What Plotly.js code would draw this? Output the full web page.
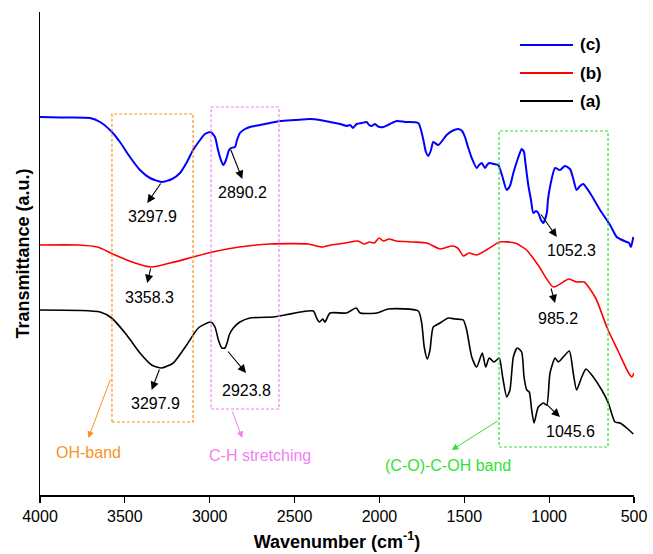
<!DOCTYPE html>
<html>
<head>
<meta charset="utf-8">
<script src="https://cdn.plot.ly/plotly-3.0.1.min.js"></script>
<style>html,body{margin:0;padding:0;background:#fff;}#chart{width:653px;height:554px;}</style>
</head>
<body>
<div id="chart"></div>
<script>
// Wavenumber (cm-1) and transmittance (a.u.)
const wnC = [4000,3882,3705,3646,3576,3529,3470,3411,3352,3283,3222,3175,3134,3098,3057,3028,2994,2969,2951,2934,2920,2904,2886,2875,2851,2839,2822,2792,2763,2704,2645,2586,2497,2409,2350,2291,2232,2193,2173,2156,2134,2103,2075,2061,2045,2026,2008,1977,1938,1898,1849,1771,1755,1741,1726,1712,1696,1683,1653,1604,1572,1535,1513,1496,1478,1456,1427,1413,1397,1378,1366,1353,1325,1300,1278,1250,1231,1211,1183,1162,1148,1142,1123,1107,1093,1077,1064,1048,1034,1014,1007,995,965,936,907,877,859,838,818,799,759,700,641,602,582,543,529,518,504];
const tC  = [378,377.5,377,373,363,353,338,325,317,313,316,322,333,345,355,361,363,358,345,335,330,335,345,347,348,355,362,366,368,370,372,374,375,376,375,373,371,369,370,367,371,372,373,370,369,371,368.5,368,371,374,373,372,365,355,343,339,345,353,350,360,364,366,364,358,348,337,327,330,332,327,330,332,331,330,320,305,309,322,337,346,343,335,310,295,282,284,282,275,272,282,295,308,327,325,329,326,317,305,309,311,302,285,270,258,256,253,252,248,258];

const wnB = [4000,3774,3661,3571,3458,3345,3232,3097,2984,2826,2645,2420,2341,2284,2200,2126,2090,2058,2030,2002,1975,1945,1900,1800,1721,1641,1573,1539,1505,1472,1426,1370,1291,1201,1133,1065,975,885,839,794,726,658,591,535,512,500];
const tB  = [250,250,248,241,233,228,232,238,243,248,251,251,248,250,252,254,251,253,252,257,254,256,254,253,252,246,249,247,239,242,240,245,253,252,245,230,208,216,213,213,197,167,143,123,118,122];

const wnA = [4000,3646,3578,3489,3411,3342,3283,3215,3136,3067,2994,2969,2949,2929,2910,2896,2885,2861,2822,2763,2625,2586,2390,2370,2354,2334,2321,2291,2194,2137,2114,2016,1997,1948,1771,1751,1736,1718,1702,1683,1643,1594,1555,1506,1486,1456,1427,1394,1374,1353,1325,1294,1274,1250,1231,1211,1188,1162,1148,1132,1117,1103,1089,1064,1034,1014,995,965,946,917,881,858,838,808,783,740,690,651,612,582,543,504];
const tA  = [185,183,177,160,142,130,127,132,150,167,173,168,155,147,147,153,160,167,173,177,178,179,184,177,173,176,173,182,182,187,182,182,183,186,184,172,148,136,145,168,172,177,176,175,165,138,128,142,128,137,133,137,118,98,105,138,147,143,118,105,103,85,72,88,92,90,122,137,133,138,144,122,105,118,126,118,105,92,73,72,67,61];

const seriesNames = ['(c)','(b)','(a)'];
const seriesColors = ['#0000FF','#FF0000','#000000'];
const xTicks = [4000,3500,3000,2500,2000,1500,1000,500];

// peak labels: [text, x, y]
const peakLabels = [
  ['3297.9',3336,279],['2890.2',2804,303],['3358.3',3352,198],
  ['3297.9',3322,92],['2923.8',2782,105],['1052.3',867,245],
  ['985.2',946,177],['1045.6',873,64]
];
// arrows: [tailX, tailY, headX, headY]
const peakArrows = [
  [3283,313,3368,292],[2880,347,2808,316],[3346,228,3368,212],
  [3293,127,3342,105],[2900,145,2786,122],[1054,282,955,258],
  [991,208,965,192],[1024,92,936,78]
];
// band boxes: [x0, x1, y0, y1, color, label, labelX, labelY, tailX, tailY, headX, headY]
const bands = [
  [3576,3098,73,381,'#F7931E','OH-band',3715,43,3582,117,3715,57],
  [2992,2592,86,388,'#F27FF2','C-H stretching',2704,40,2870,85,2808,57],
  [1295,653,48,364,'#33E033','(C-O)-C-OH band',1596,30,1294,75,1574,45]
];

const FONT = 'Liberation Sans, Arial, sans-serif';
const traces = [
  {x: wnC, y: tC, name: seriesNames[0], mode:'lines', line:{color:seriesColors[0], width:2, shape:'spline', smoothing:0.6}},
  {x: wnB, y: tB, name: seriesNames[1], mode:'lines', line:{color:seriesColors[1], width:1.6, shape:'spline', smoothing:0.6}},
  {x: wnA, y: tA, name: seriesNames[2], mode:'lines', line:{color:seriesColors[2], width:1.6, shape:'spline', smoothing:0.6}}
];

const annotations = [];
const shapes = [];
peakLabels.forEach(p => annotations.push({x:p[1], y:p[2], xref:'x', yref:'y', text:p[0], showarrow:false, font:{family:FONT, size:16, color:'#000'}}));
peakArrows.forEach(a => annotations.push({x:a[2], y:a[3], ax:a[0], ay:a[1], axref:'x', ayref:'y', xref:'x', yref:'y', text:'', showarrow:true, arrowhead:2, arrowsize:1.5, arrowwidth:1.1, arrowcolor:'#000', standoff:0, startstandoff:0}));
bands.forEach(b => {
  shapes.push({type:'rect', xref:'x', yref:'y', x0:b[0], x1:b[1], y0:b[2], y1:b[3], line:{color:b[4], width:1.2, dash:'3px,2px'}, fillcolor:'rgba(0,0,0,0)'});
  annotations.push({x:b[6], y:b[7], xref:'x', yref:'y', text:b[5], showarrow:false, font:{family:FONT, size:16, color:b[4]}});
  annotations.push({x:b[10], y:b[11], ax:b[8], ay:b[9], axref:'x', ayref:'y', xref:'x', yref:'y', text:'', showarrow:true, arrowhead:2, arrowsize:1.3, arrowwidth:1, arrowcolor:b[4], standoff:0});
});

// legend key (drawn as a key in paper coordinates)
const legendRows = [0.9317, 0.8737, 0.8157];
seriesNames.forEach((n, i) => {
  shapes.push({type:'line', xref:'paper', yref:'paper', x0:0.808, x1:0.8973, y0:legendRows[i], y1:legendRows[i], line:{color:seriesColors[i], width:2}});
  annotations.push({x:0.905, y:legendRows[i], xref:'paper', yref:'paper', xanchor:'left', yanchor:'middle', text:'<b>'+n+'</b>', showarrow:false, font:{family:FONT, size:17, color:'#000'}});
});

const layout = {
  width:653, height:554,
  margin:{l:40, r:19, t:12, b:59},
  paper_bgcolor:'#fff', plot_bgcolor:'#fff',
  font:{family:FONT, size:16, color:'#000'},
  showlegend:false,
  xaxis:{range:[4000,500], tickvals:xTicks, ticktext:xTicks.map(String), ticks:'outside', ticklen:6, tickwidth:1.2, tickcolor:'#000',
         showline:true, linecolor:'#000', linewidth:1.5, mirror:false, showgrid:false, zeroline:false,
         tickfont:{family:FONT, size:16, color:'#000'},
         title:{text:'<b>Wavenumber (cm<sup>-1</sup>)</b>', font:{family:FONT, size:18, color:'#000'}, standoff:11}},
  yaxis:{range:[0,483], showticklabels:false, ticks:'', showline:true, linecolor:'#000', linewidth:1.5, showgrid:false, zeroline:false,
         title:{text:'<b>Transmittance (a.u.)</b>', font:{family:FONT, size:18, color:'#000'}, standoff:4}},
  shapes: shapes,
  annotations: annotations
};
Plotly.newPlot('chart', traces, layout, {staticPlot:true, displayModeBar:false});
</script>
</body>
</html>
